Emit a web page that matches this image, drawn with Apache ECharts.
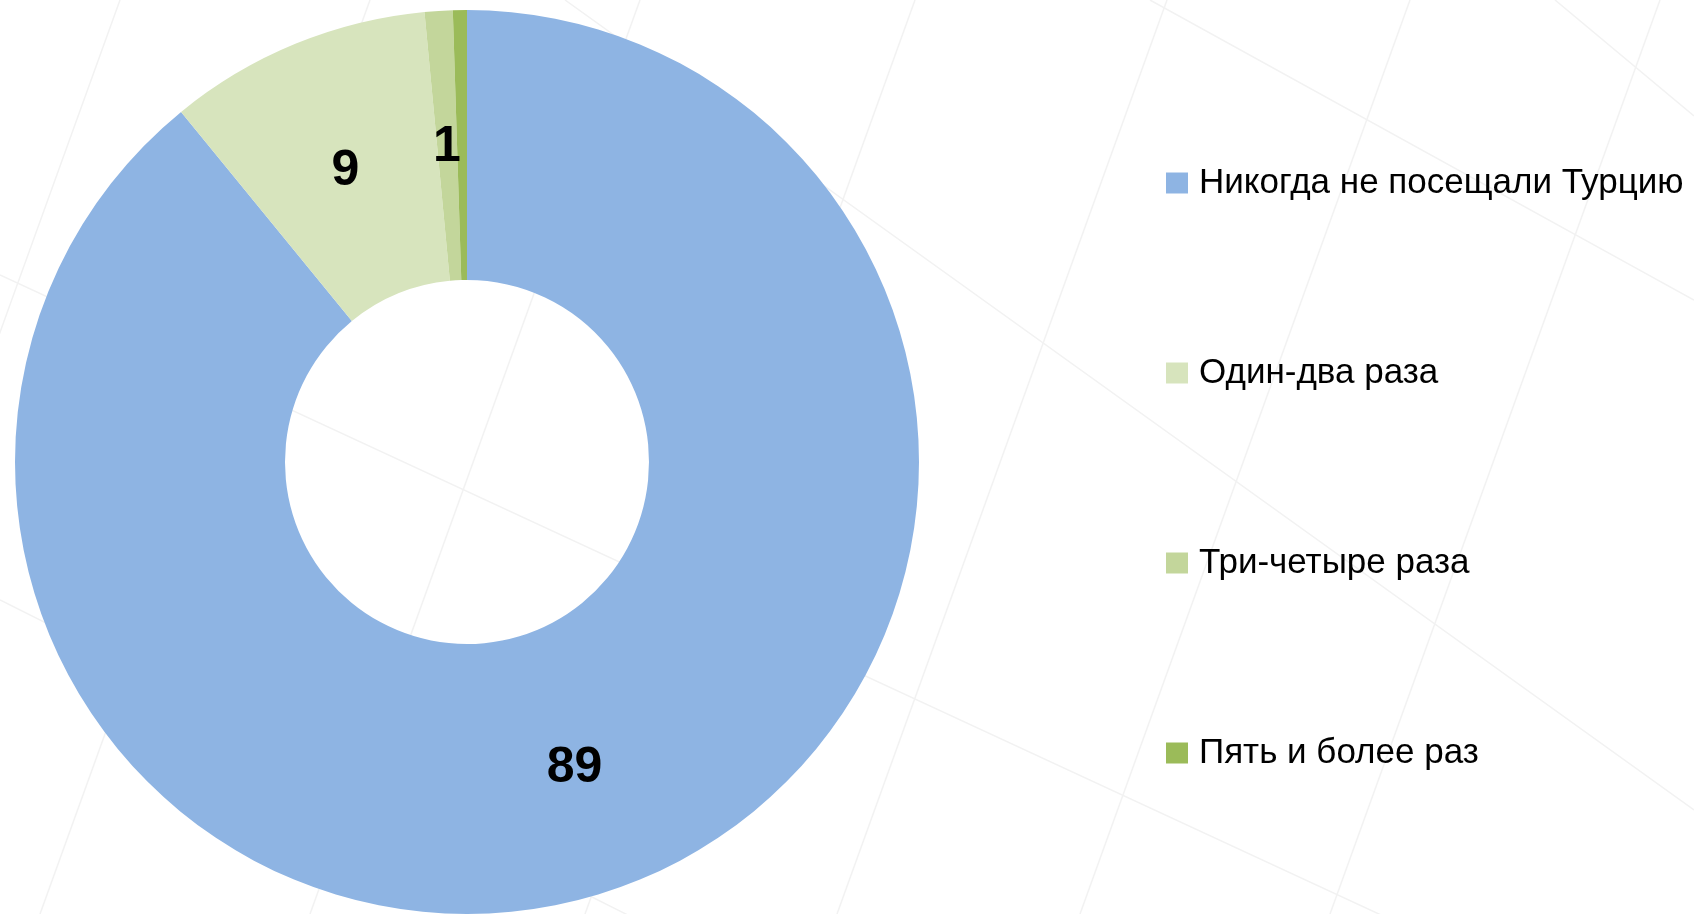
<!DOCTYPE html>
<html>
<head>
<meta charset="utf-8">
<script src="https://cdn.jsdelivr.net/npm/echarts@6/dist/echarts.min.js"></script>
<style>
  html, body { margin: 0; padding: 0; background: #fff; }
  #chart { width: 1694px; height: 914px; }
</style>
</head>
<body>
<div id="chart"></div>
<script>
// данные опроса (%)
const categories = ['Никогда не посещали Турцию', 'Один-два раза', 'Три-четыре раза', 'Пять и более раз']
const values = [89.1, 9.4, 1.0, 0.5]
const colors = ['#8EB4E3', '#D7E4BD', '#C3D69B', '#9BBB59']
const hideLabel = [false, false, false, true] // последний сектор без подписи

const FONT = '"Liberation Sans", Arial, sans-serif'

// фоновая сетка слайда
function bgLines() {
  const out = []
  const steepTop = [-130, 120, 370, 640, 915, 1167, 1410, 1660]
  steepTop.forEach(x => {
    out.push({ type: 'line', silent: true, z: -10,
      shape: { x1: x, y1: 0, x2: x - 330, y2: 914 },
      style: { stroke: '#f2f2f2', lineWidth: 1.5 } })
  })
  const shallow = [
    [0, 275, 1694, 1060],
    [565, 0, 1694, 810],
    [1555, 0, 1694, 116],
    [0, 600, 1694, 1450],
    [1150, 0, 1694, 300]
  ]
  shallow.forEach(s => {
    out.push({ type: 'line', silent: true, z: -10,
      shape: { x1: s[0], y1: s[1], x2: s[2], y2: s[3] },
      style: { stroke: '#f2f2f2', lineWidth: 1.5 } })
  })
  return out
}

const chart = echarts.init(document.getElementById('chart'), null, { renderer: 'canvas' })
chart.setOption({
  backgroundColor: '#ffffff',
  animation: false,
  color: colors,
  graphic: bgLines(),
  legend: {
    orient: 'vertical',
    left: 1166,
    top: 158,
    padding: 0,
    itemGap: 140,
    itemWidth: 22,
    itemHeight: 21,
    icon: 'rect',
    selectedMode: false,
    textStyle: {
      fontFamily: FONT,
      fontSize: 35,
      lineHeight: 50,
      color: '#000',
      padding: [0, 0, 0, 6]
    },
    data: categories
  },
  series: [{
    type: 'pie',
    center: [467, 462],
    radius: [182, 452],
    startAngle: 90,
    clockwise: true,
    avoidLabelOverlap: false,
    emphasis: { disabled: true },
    label: {
      show: true,
      position: 'inside',
      offset: [0, 5],
      fontFamily: FONT,
      fontSize: 50,
      fontWeight: 'bold',
      color: '#000',
      formatter: p => String(Math.round(p.value))
    },
    labelLine: { show: false },
    itemStyle: { borderWidth: 0 },
    data: categories.map((name, i) => ({
      name: name,
      value: values[i],
      label: { show: !hideLabel[i] }
    }))
  }]
})
</script>
</body>
</html>
